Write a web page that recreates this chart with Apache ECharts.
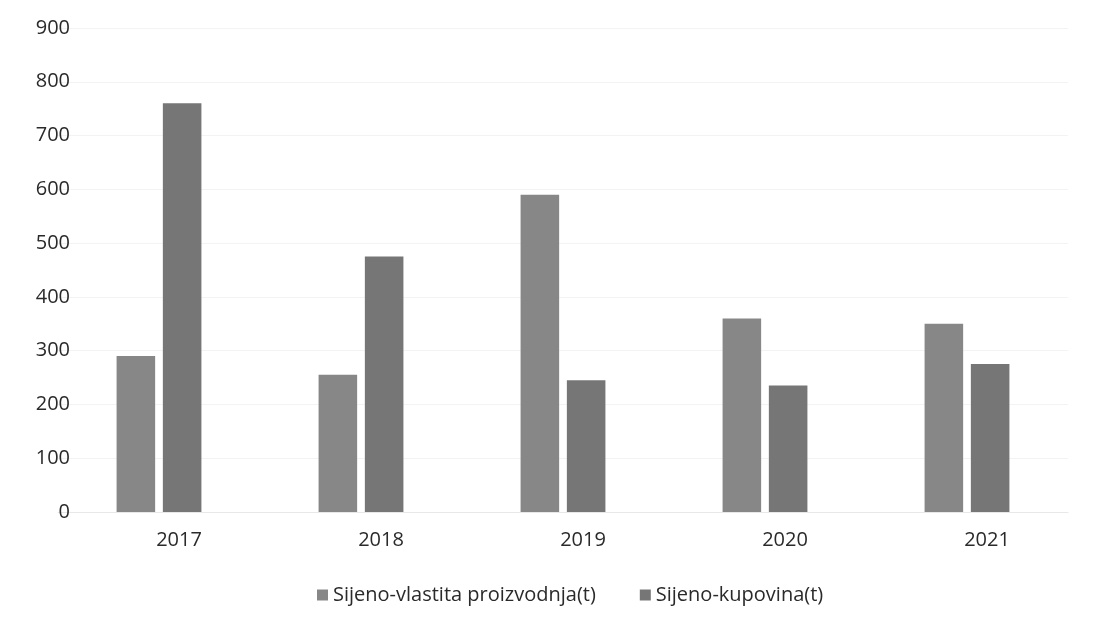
<!DOCTYPE html>
<html>
<head>
<meta charset="utf-8">
<script src="https://cdn.jsdelivr.net/npm/echarts@6/dist/echarts.min.js"></script>
<style>
html,body{margin:0;padding:0;background:#fff;}
#chart{width:1111px;height:631px;}
</style>
</head>
<body>
<div id="chart"></div>
<script>
const categories = ['2017', '2018', '2019', '2020', '2021'];
const seriesNames = ['Sijeno-vlastita proizvodnja(t)', 'Sijeno-kupovina(t)'];
const ownProduction = [290, 255, 590, 360, 350];
const purchase = [760, 475, 245, 235, 275];
const yTicks = [0, 100, 200, 300, 400, 500, 600, 700, 800, 900];

const FONT = 'Open Sans';
const chart = echarts.init(document.getElementById('chart'));
chart.setOption({
  animation: false,
  backgroundColor: '#ffffff',
  textStyle: { fontFamily: FONT },
  grid: { left: 58, right: 43, top: 28, bottom: 119, containLabel: false },
  legend: {
    top: 580,
    left: 312,
    itemWidth: 11,
    itemHeight: 11,
    itemGap: 44,
    icon: 'rect',
    textStyle: { fontFamily: FONT, fontSize: 20, color: '#2a2a2a' },
    data: seriesNames
  },
  xAxis: {
    type: 'category',
    data: categories,
    axisLine: { show: true, lineStyle: { color: '#e8e8e8' } },
    axisTick: { show: false },
    axisLabel: { fontFamily: FONT, fontSize: 20, color: '#2a2a2a', margin: 18, padding: [0, 0, 0, 40] }
  },
  yAxis: {
    type: 'value',
    min: yTicks[0],
    max: yTicks[yTicks.length - 1],
    interval: 100,
    axisLine: { show: false },
    axisTick: { show: false },
    splitLine: { show: true, lineStyle: { color: '#f3f3f3' } },
    axisLabel: { fontFamily: FONT, fontSize: 20, color: '#2a2a2a', margin: -12 }
  },
  series: [
    {
      name: seriesNames[0],
      type: 'bar',
      data: ownProduction,
      barGap: '20%',
      barCategoryGap: '58%',
      itemStyle: { color: '#878787' }
    },
    {
      name: seriesNames[1],
      type: 'bar',
      data: purchase,
      itemStyle: { color: '#767676' }
    }
  ]
});
</script>
</body>
</html>
